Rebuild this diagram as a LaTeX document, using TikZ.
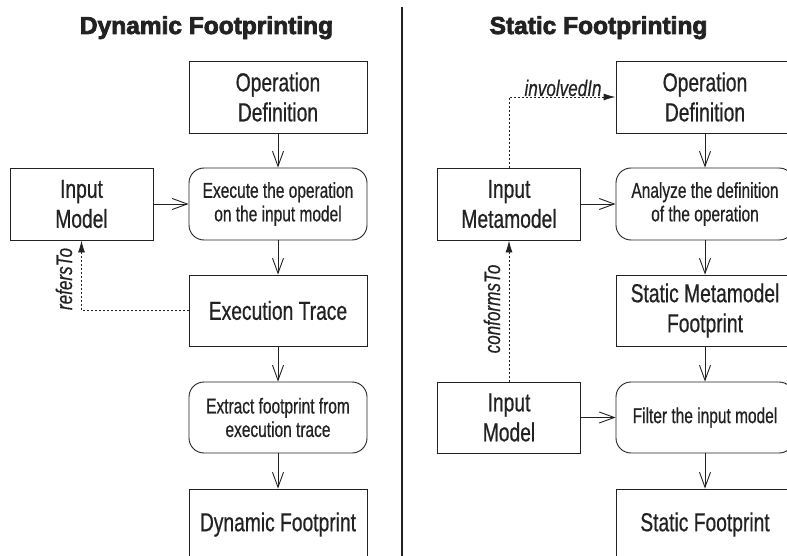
\documentclass[tikz,border=0pt]{standalone}
\usepackage{fontspec}
\setmainfont{Liberation Sans}[BoldFeatures={FakeBold=3}]
\newfontfamily\boxfont{Liberation Sans}[FakeStretch=0.74, FakeBold=0.6]
\newfontfamily\procfont{Liberation Sans}[FakeStretch=0.72, FakeBold=0.6]
\newfontfamily\labfont{Liberation Sans}[FakeStretch=0.76, FakeBold=0.4]
\usetikzlibrary{arrows.meta}
\definecolor{ink}{HTML}{222222}
\tikzset{
  box/.style={draw=ink, text=ink, minimum width=178pt, minimum height=72pt, align=center,
    inner sep=0pt, font=\boxfont\fontsize{26}{30}\selectfont},
  inbox/.style={box, minimum width=143pt},
  proc/.style={box, rounded corners=15pt, font=\procfont\fontsize{21.5}{23.5}\selectfont},
  flow/.style={draw=ink, -{Straight Barb[length=15pt,width=11pt]}},
  rel/.style={draw=ink, dash pattern=on 2pt off 2pt, -{Latex[length=12pt,width=7pt]}},
  lab/.style={text=ink, inner sep=0pt, font=\labfont\itshape\fontsize{22.5}{25}\selectfont},
  title/.style={text=ink, inner sep=0pt, font=\bfseries\fontsize{24.5}{29}\selectfont}
}
\begin{document}
\begin{tikzpicture}[x=1pt, y=-1pt, line width=0.9pt]
\useasboundingbox (0,0) rectangle (787,556);
\clip (0,0) rectangle (787,556);
% titles
\node[title, anchor=base] (t1) at (206.5,34) {Dynamic Footprinting};
\node[title, anchor=base] (t2) at (598.5,34) {Static Footprinting};
% divider
\coordinate (d1) at (402,7);
\coordinate (d2) at (402,560);
\draw[ink, line width=2pt] (d1) -- (d2);
% left column
\node[box] (od1) at (278,97) {Operation\\Definition};
\node[inbox] (im1) at (81.5,204) {Input\\Model};
\node[proc] (ex) at (278,204) {Execute the operation\\on the input model};
\node[box, minimum height=71pt] (et) at (278,310.5) {Execution Trace};
\node[proc, minimum height=71pt] (xf) at (278,417.5) {Extract footprint from\\execution trace};
\node[box, minimum height=71pt] (df) at (278,524.5) {Dynamic Footprint};
\draw[flow] (od1) -- (ex);
\draw[flow] (im1) -- (ex);
\draw[flow] (ex) -- (et);
\draw[flow] (et) -- (xf);
\draw[flow] (xf) -- (df);
\draw[rel] (et.west) -| (im1.south);
\node[lab, rotate=90, anchor=base] (rt) at (72,279) {refersTo};
% right column
\node[box] (od2) at (705,97) {Operation\\Definition};
\node[inbox] (imm) at (509,204) {Input\\Metamodel};
\node[proc] (an) at (705,204) {Analyze the definition\\of the operation};
\node[box, minimum height=71pt] (smf) at (705,310.5) {Static Metamodel\\Footprint};
\node[inbox, minimum height=71pt] (im2) at (509,417.5) {Input\\Model};
\node[proc, minimum height=71pt] (fi) at (705,417.5) {Filter the input model};
\node[box, minimum height=71pt] (sf) at (705,524.5) {Static Footprint};
\draw[flow] (od2) -- (an);
\draw[flow] (imm) -- (an);
\draw[flow] (an) -- (smf);
\draw[flow] (smf) -- (fi);
\draw[flow] (im2) -- (fi);
\draw[flow] (fi) -- (sf);
\draw[rel] (imm.north) |- (od2.west);
\node[lab, anchor=base] (inv) at (563,96) {involvedIn};
\draw[rel] (im2.north) -- (imm.south);
\node[lab, rotate=90, anchor=base] (ct) at (500,309) {conformsTo};
\end{tikzpicture}
\end{document}
